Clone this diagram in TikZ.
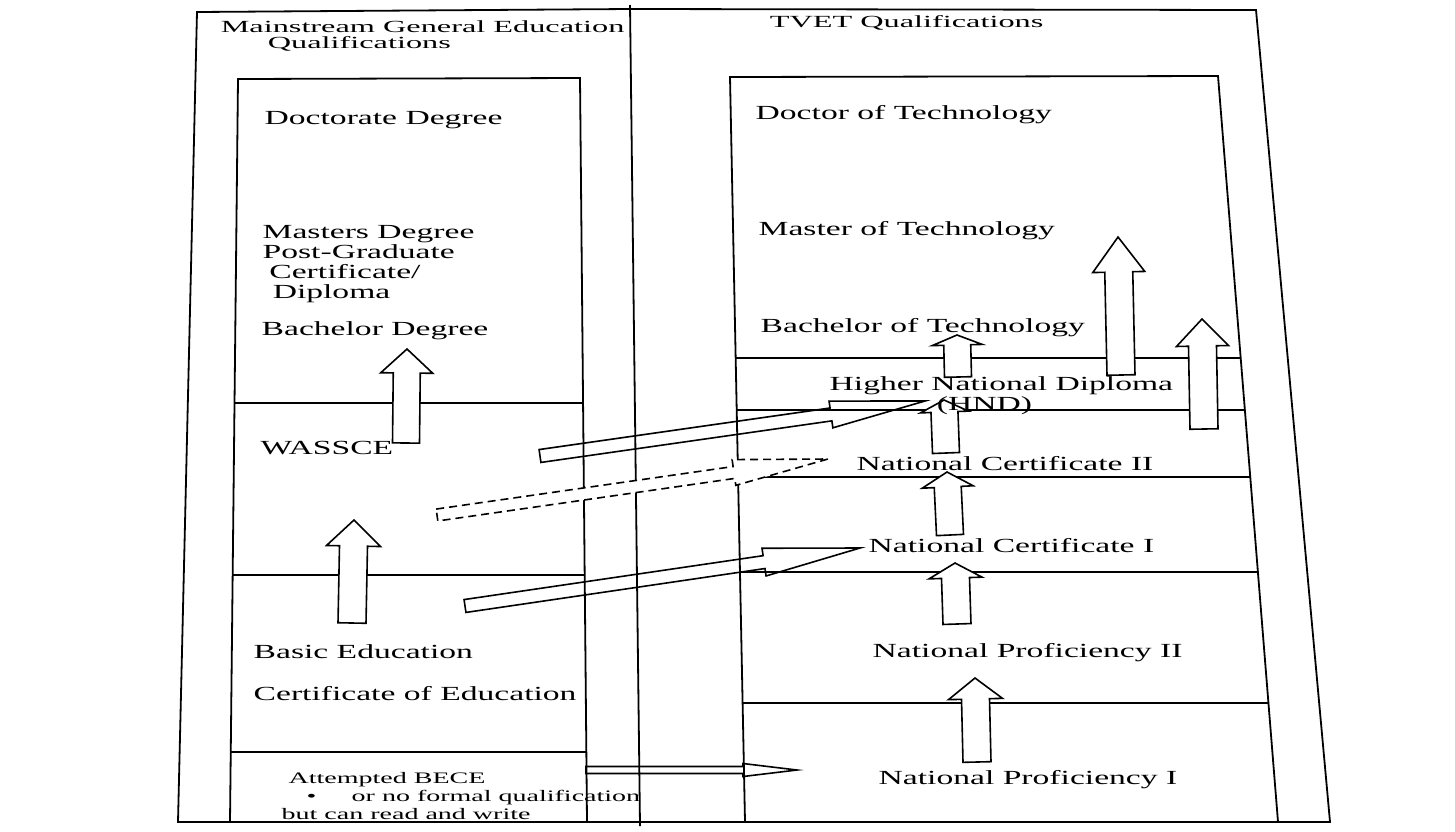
\documentclass[tikz,border=0pt]{standalone}
\usepackage{fontspec}
\setmainfont{Liberation Serif}
\usetikzlibrary{calc}
\tikzstyle{frame} = [draw=black,line width=0.9pt]
\tikzstyle{head} = [anchor=base west,inner sep=0pt,align=left,xscale=1.9,font=\fontsize{8.5}{8}\selectfont]
\tikzstyle{qual} = [anchor=base west,inner sep=0pt,align=left,xscale=1.68,font=\fontsize{10}{10}\selectfont]
\tikzstyle{note} = [anchor=base west,inner sep=0pt,align=left,xscale=1.75,font=\fontsize{8}{9}\selectfont]
\tikzstyle{uparrow} = [draw=black,fill=white,line width=0.8pt]
\tikzstyle{crossarrow} = [draw=black,line width=0.8pt]
\tikzstyle{maybearrow} = [draw=black,fill=white,line width=0.8pt,dash pattern=on 4pt off 2.5pt]

% block arrow: [style]{tail}{tip}{shaft half width}{head half width}{head length}
\newcommand{\blockarrow}[6][uparrow]{%
  \coordinate (hb) at ($(#3)!#6!(#2)$);
  \draw[#1] ($(#2)!#4!90:(#3)$) -- ($(hb)!#4!90:(#3)$) -- ($(hb)!#5!90:(#3)$) -- (#3)
    -- ($(hb)!#5!-90:(#3)$) -- ($(hb)!#4!-90:(#3)$) -- ($(#2)!#4!-90:(#3)$) -- cycle;}

\begin{document}
\begin{tikzpicture}[x=0.5pt,y=-0.5pt]
	\fill[white] (0,0) rectangle (1455,831);
	\useasboundingbox (0,0) rectangle (1455,831);

	%frames
	\draw[frame] (197,12) -- (630,9) -- (1256,10) -- (1330,822) -- (178,822) -- cycle;
	\draw[frame] (630,5) -- (640,826);
	\draw[frame] (230,822) -- (238,79) -- (580,78) -- (587,822);
	\draw[frame] (745,822) -- (730,77) -- (1218,76) -- (1278,822);

	%levels mainstream
	\draw[frame] (234.5,403) -- (583,403);
	\draw[frame] (232.6,575) -- (584.7,575);
	\draw[frame] (230.7,752) -- (586.4,752);

	%levels TVET
	\draw[frame] (735.7,358) -- (1240.7,358);
	\draw[frame] (736.7,410) -- (1244.9,410);
	\draw[frame] (738,477) -- (1250.3,477);
	\draw[frame] (740,572) -- (1257.9,572);
	\draw[frame] (742.6,703) -- (1268.4,703);

	%arrows across
	\coordinate (wa-out) at (540,456);
	\coordinate (hnd-in) at (925,401);
	\coordinate (ws-out) at (437,515);
	\coordinate (nc2-in) at (828,459);
	\coordinate (be-out) at (465,606);
	\coordinate (nc1-in) at (860,548);
	\coordinate (bece-out) at (586,770);
	\coordinate (np1-in) at (797,770);
	\blockarrow[crossarrow]{wa-out}{hnd-in}{3.25pt}{6.75pt}{47.5pt}
	\blockarrow[maybearrow]{ws-out}{nc2-in}{3pt}{6.5pt}{47.5pt}
	\blockarrow[crossarrow]{be-out}{nc1-in}{3.25pt}{7pt}{48.5pt}
	\blockarrow[crossarrow]{bece-out}{np1-in}{1.75pt}{3.25pt}{27pt}

	%arrows up
	\coordinate (wb0) at (406,443);
	\coordinate (wb1) at (407,349);
	\coordinate (bw0) at (352,623);
	\coordinate (bw1) at (354,520);
	\coordinate (p12a) at (977,762);
	\coordinate (p12b) at (975,678);
	\coordinate (p2c1a) at (957,624);
	\coordinate (p2c1b) at (955,563);
	\coordinate (c12a) at (950,535);
	\coordinate (c12b) at (947,472);
	\coordinate (c2ha) at (946,453);
	\coordinate (c2hb) at (944,400);
	\coordinate (hba) at (958,377);
	\coordinate (hbb) at (957,335);
	\coordinate (hma) at (1121,375);
	\coordinate (hmb) at (1118,237);
	\coordinate (hbc) at (1204,429);
	\coordinate (hbd) at (1202,319);
	\blockarrow{wb0}{wb1}{6.75pt}{13pt}{12pt}
	\blockarrow{bw0}{bw1}{7pt}{13.5pt}{13pt}
	\blockarrow{p12a}{p12b}{7pt}{13.5pt}{10.5pt}
	\blockarrow{p2c1a}{p2c1b}{7pt}{13.25pt}{7.5pt}
	\blockarrow{c12a}{c12b}{6.75pt}{12.75pt}{7.5pt}
	\blockarrow{c2ha}{c2hb}{6.75pt}{12pt}{6pt}
	\blockarrow{hba}{hbb}{6.75pt}{12.5pt}{5pt}
	\blockarrow{hma}{hmb}{7pt}{13pt}{17.5pt}
	\blockarrow{hbc}{hbd}{7pt}{13pt}{13.5pt}

	%MGE
	\node (mge) [head] at (220,48) {Mainstream General Education\\\hspace*{12.4pt}Qualifications};
	\node (phd) [qual] at (264,124) {Doctorate Degree};
	\node (msc) [qual] at (262,298) {Masters Degree\\Post-Graduate\\\hspace*{2pt}Certificate/\\\hspace*{3pt}Diploma};
	\node (bsc) [qual] at (261,335) {Bachelor Degree};
	\node (wassce) [qual] at (260,454) {WASSCE};
	\node (basic) [qual] at (253,658) {Basic Education};
	\node (cert) [qual] at (253,700) {Certificate of Education};
	\node (bece) [note] at (281,819) {\hspace*{2pt}Attempted BECE\\\hspace*{7.1pt}\textbullet\hspace*{10.1pt}or no formal qualification\\but can read and write};

	%TVET
	\node (tvet) [head] at (769,27) {TVET Qualifications};
	\node (dtech) [qual] at (755,119) {Doctor of Technology};
	\node (mtech) [qual] at (758,235) {Master of Technology};
	\node (btech) [qual] at (760,332) {Bachelor of Technology};
	\node (hnd) [qual,align=center] at (829,410) {Higher National Diploma\\(HND)\hspace*{10pt}};
	\node (nc2) [qual] at (856,470) {National Certificate II};
	\node (nc1) [qual] at (868,552) {National Certificate I};
	\node (np2) [qual] at (872,657) {National Proficiency II};
	\node (np1) [qual] at (878,784) {National Proficiency I};
\end{tikzpicture}
\end{document}
